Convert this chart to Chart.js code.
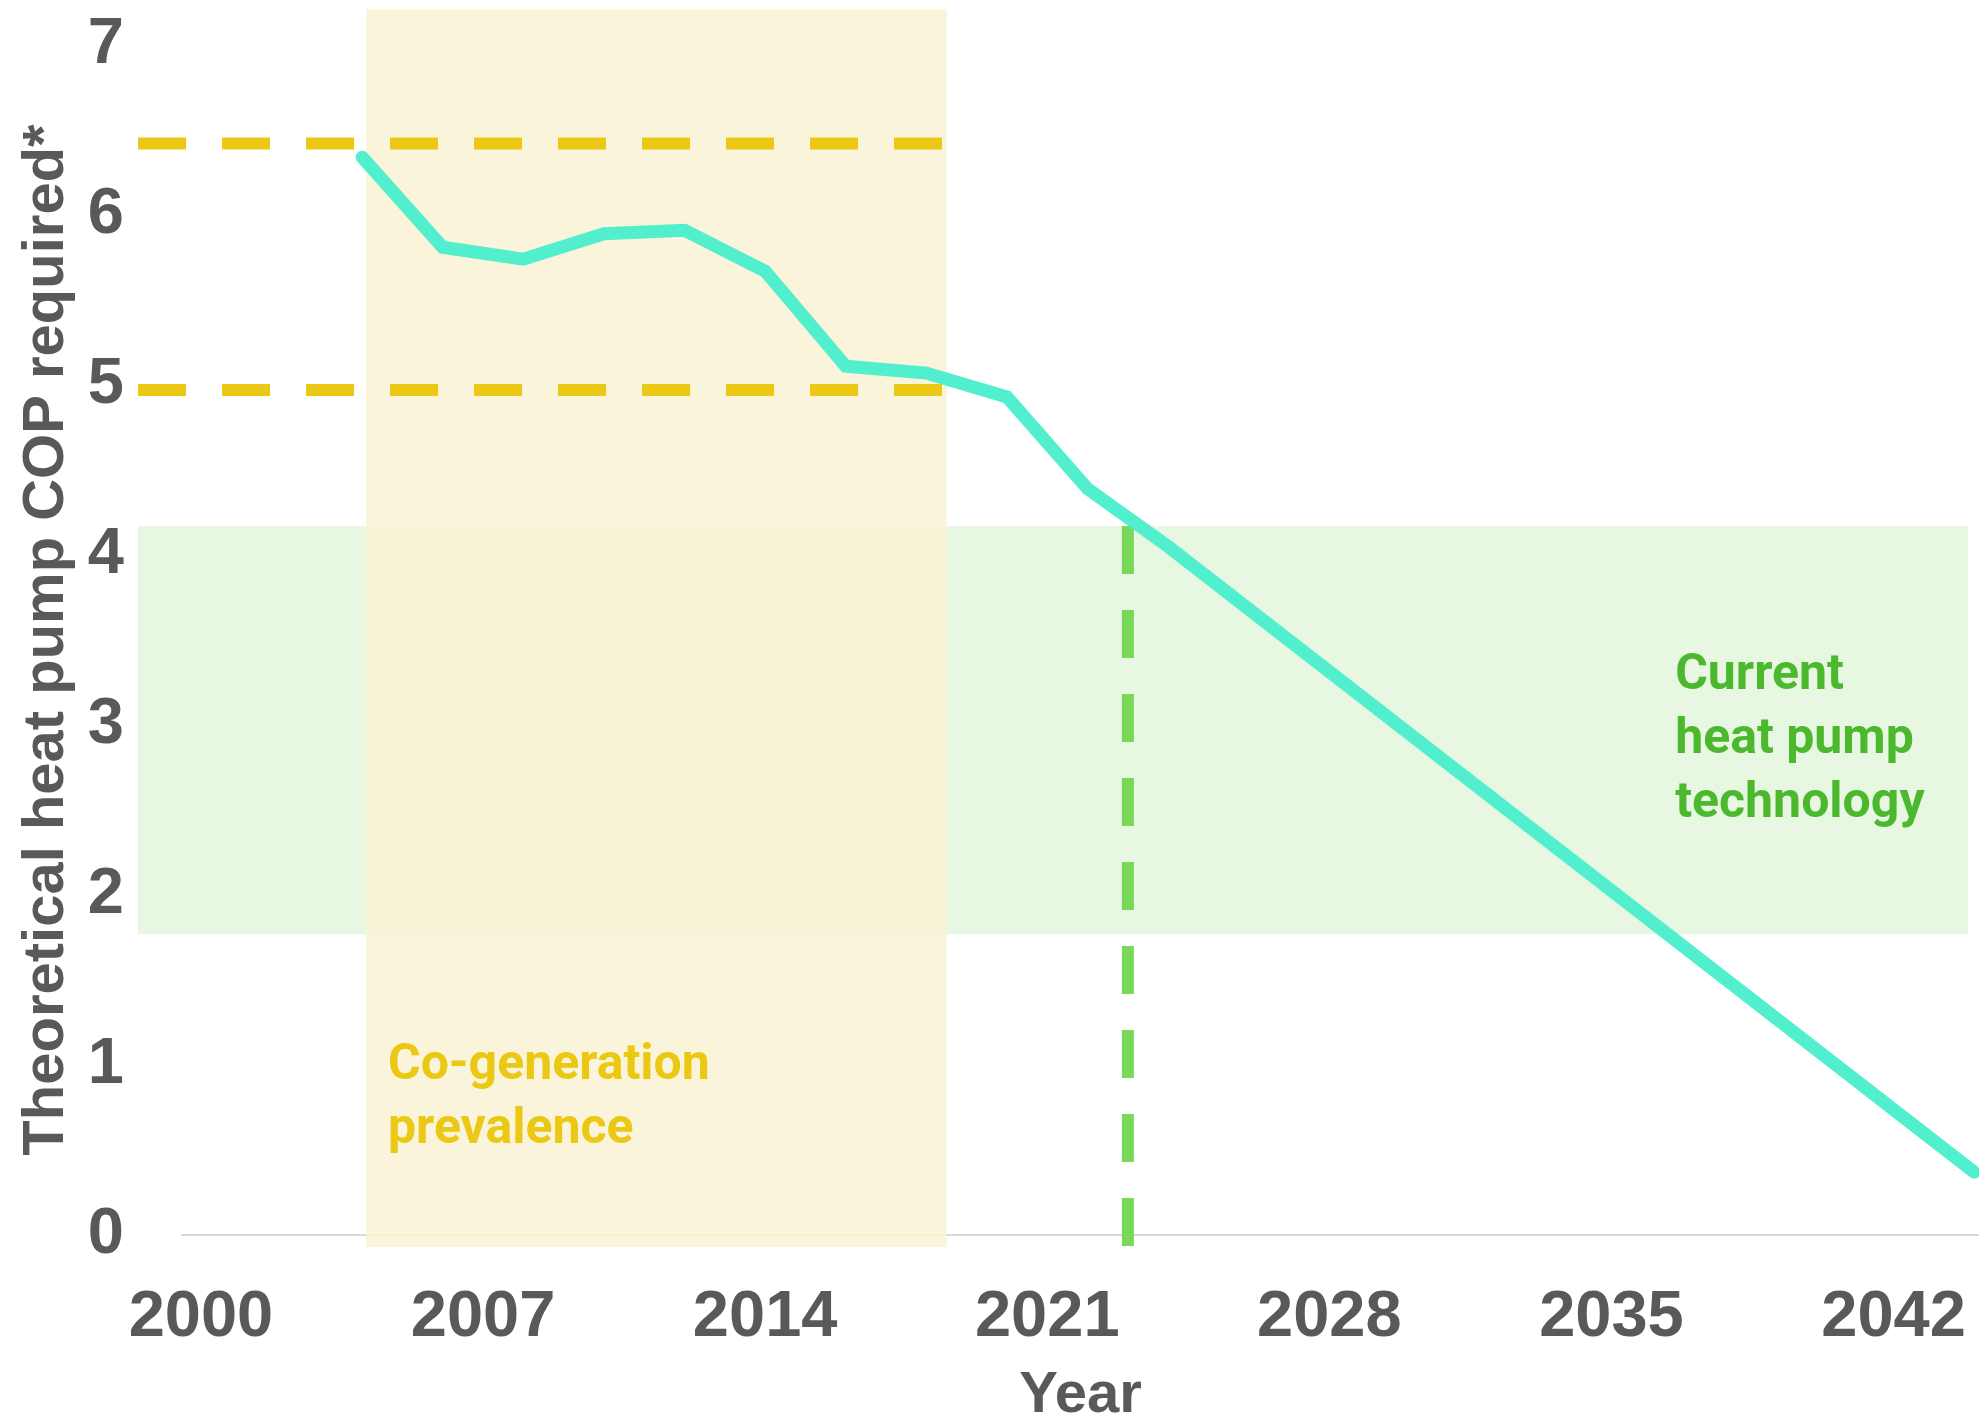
<!DOCTYPE html>
<html>
<head>
<meta charset="utf-8">
<title>Theoretical heat pump COP required</title>
<script src="https://cdn.jsdelivr.net/npm/chart.js@4.4.1/dist/chart.umd.min.js"></script>
<style>
  html, body { margin: 0; padding: 0; background: #fff; }
  #wrap { width: 1979px; height: 1420px; }
</style>
</head>
<body>
<div id="wrap"><canvas id="copChart" width="1979" height="1420"></canvas></div>
<script>
// Values
const years = [2004, 2006, 2008, 2010, 2012, 2014, 2016, 2018, 2020, 2022, 2024, 2044];
const copRequired = [6.34, 5.81, 5.74, 5.89, 5.91, 5.67, 5.11, 5.07, 4.93, 4.39, 4.05, 0.37];
const xTicks = [2000, 2007, 2014, 2021, 2028, 2035, 2042];
const yTicks = [0, 1, 2, 3, 4, 5, 6, 7];

const GREY = '#595959';
const TICK_FONT = { family: '"Liberation Sans", Arial, sans-serif', size: 65, weight: 'bold' };

// Shaded regions, dashed guides and their labels (drawn in data coordinates)
const annotations = {
    id: 'annotations',
    beforeDatasetsDraw(chart) {
        const { ctx, scales: { x, y } } = chart;
        const box = (x0, x1, y0, y1, color) => {
            const left = x.getPixelForValue(x0), right = x.getPixelForValue(x1);
            const top = y.getPixelForValue(y1), bottom = y.getPixelForValue(y0);
            ctx.fillStyle = color;
            ctx.fillRect(left, top, right - left, bottom - top);
        };
        const dash = (x0, y0, x1, y1, color) => {
            ctx.beginPath();
            ctx.strokeStyle = color;
            ctx.lineWidth = 12;
            ctx.lineCap = 'butt';
            ctx.setLineDash([48, 36]);
            ctx.moveTo(x.getPixelForValue(x0), y.getPixelForValue(y0));
            ctx.lineTo(x.getPixelForValue(x1), y.getPixelForValue(y1));
            ctx.stroke();
        };
        const label = (lines, x0, y0, color) => {
            ctx.fillStyle = color;
            ctx.font = 'bold 50px Roboto, sans-serif';
            ctx.textAlign = 'left';
            ctx.textBaseline = 'alphabetic';
            const px = x.getPixelForValue(x0);
            const py = y.getPixelForValue(y0);
            lines.forEach((t, i) => ctx.fillText(t, px, py + i * 64));
        };

        ctx.save();
        // current heat pump technology band
        box(1998.44, 2043.85, 1.77, 4.17, '#e7f7e1');
        // co-generation band
        box(2004.1, 2018.5, -0.07, 7.21, 'rgba(249, 242, 212, 0.85)');

        dash(1998.44, 6.42, 2018.4, 6.42, '#ebc814');
        dash(1998.44, 4.97, 2018.4, 4.97, '#ebc814');
        dash(2023, 4.17, 2023, -0.07, '#78d858');

        label(['Co-generation', 'prevalence'], 2004.64, 0.92, '#ebc814');
        label(['Current', 'heat pump', 'technology'], 2036.58, 3.21, '#4cb82e');
        ctx.restore();
    }
};

const ctx = document.getElementById('copChart').getContext('2d');
const copChart = new Chart(ctx, {
    type: 'line',
    data: {
        datasets: [{
            label: 'Theoretical heat pump COP required',
            data: years.map((yr, i) => ({ x: yr, y: copRequired[i] })),
            borderColor: '#52efcf',
            borderWidth: 13,
            borderCapStyle: 'round',
            pointRadius: 0,
            tension: 0,
            fill: false
        }]
    },
    options: {
        responsive: false,
        animation: false,
        devicePixelRatio: 1,
        layout: { padding: { top: 45, left: 0, right: 0, bottom: 0 } },
        plugins: {
            legend: { display: false },
            tooltip: { enabled: false }
        },
        scales: {
            x: {
                type: 'linear',
                min: 1999.53,
                max: 2044.12,
                afterBuildTicks: s => { s.ticks = xTicks.map(v => ({ value: v })); },
                afterFit: s => { s.height = 185; s.paddingLeft = 0; s.paddingRight = 0; },
                grid: { display: false },
                border: { display: true, color: '#d9d9d9', width: 2 },
                ticks: {
                    font: TICK_FONT,
                    color: GREY,
                    padding: 36,
                    maxRotation: 0,
                    autoSkip: false,
                    callback: v => String(v)
                },
                title: {
                    display: true,
                    text: 'Year',
                    color: GREY,
                    font: { family: '"Liberation Sans", Arial, sans-serif', size: 58, weight: 'bold', lineHeight: 1 },
                    padding: { top: 0, bottom: -5 }
                }
            },
            y: {
                min: 0,
                max: 7,
                afterBuildTicks: s => { s.ticks = yTicks.map(v => ({ value: v })); },
                afterFit: s => { s.width = 182; s.paddingTop = 0; s.paddingBottom = 0; },
                grid: { display: false },
                border: { display: false },
                ticks: {
                    font: TICK_FONT,
                    color: GREY,
                    padding: 50,
                    autoSkip: false
                },
                title: {
                    display: true,
                    text: 'Theoretical heat pump COP required*',
                    color: GREY,
                    font: { family: '"Liberation Sans", Arial, sans-serif', size: 58, weight: 'bold', lineHeight: 1 },
                    padding: { top: 18, bottom: 0 }
                }
            }
        }
    },
    plugins: [annotations]
});
</script>
</body>
</html>
